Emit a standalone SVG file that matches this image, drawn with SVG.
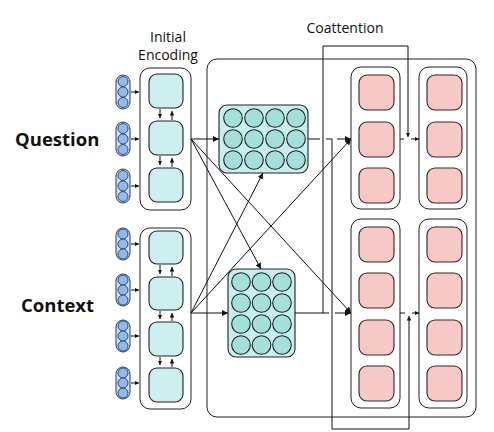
<svg xmlns="http://www.w3.org/2000/svg" width="494" height="432" viewBox="0 0 494 432">
<defs>
<marker id="ah" viewBox="0 0 6 6" refX="6" refY="3" markerWidth="6" markerHeight="6" markerUnits="userSpaceOnUse" orient="auto">
<path d="M0,0 L6,3 L0,6 z" fill="#111"/>
</marker>
<marker id="as" viewBox="0 0 6 6" refX="6" refY="3" markerWidth="4.5" markerHeight="4.5" markerUnits="userSpaceOnUse" orient="auto">
<path d="M0,0 L6,3 L0,6 z" fill="#111"/>
</marker>
<style>
.lbl{font-family:"Open Sans","Liberation Sans",sans-serif;fill:#111}
.big{font-size:18.5px;font-weight:700}
.sm{font-size:14px}
.frame{fill:#fff;stroke:#222;stroke-width:1}
.cell{fill:#cdeff0;stroke:#222;stroke-width:1.1}
.pink{fill:#f6c8c6;stroke:#3a2222;stroke-width:1.1}
.mat{fill:#c8eeee;stroke:#222;stroke-width:1.1}
.dot{fill:#a3e0dc;stroke:#222;stroke-width:1.1}
.pill{fill:#cfe1f6;stroke:#2a3a55;stroke-width:1}
.pc{fill:#94b9ea;stroke:#2a4a80;stroke-width:1}
.ln{fill:none;stroke:#111;stroke-width:1}
</style>
</defs>
<rect width="494" height="432" fill="#fff"/>

<text class="lbl big" x="15" y="146">Question</text>
<text class="lbl big" x="21" y="312">Context</text>
<text class="lbl sm" x="168" y="42" text-anchor="middle">Initial</text>
<text class="lbl sm" x="168" y="60" text-anchor="middle">Encoding</text>
<text class="lbl sm" x="345" y="33" text-anchor="middle">Coattention</text>

<g id="big-box"><rect class="frame" x="207" y="59" width="269" height="358" rx="10"/></g>

<g id="q-inputs">
<rect class="pill" x="116" y="75" width="14" height="34" rx="7"/>
<circle class="pc" cx="123" cy="81.5" r="5"/><circle class="pc" cx="123" cy="92" r="5"/><circle class="pc" cx="123" cy="102.5" r="5"/>
<rect class="pill" x="116" y="122" width="14" height="34" rx="7"/>
<circle class="pc" cx="123" cy="128.5" r="5"/><circle class="pc" cx="123" cy="139" r="5"/><circle class="pc" cx="123" cy="149.5" r="5"/>
<rect class="pill" x="116" y="169" width="14" height="34" rx="7"/>
<circle class="pc" cx="123" cy="175.5" r="5"/><circle class="pc" cx="123" cy="186" r="5"/><circle class="pc" cx="123" cy="196.5" r="5"/>
</g>
<g id="c-inputs">
<rect class="pill" x="116" y="228" width="14" height="32" rx="7"/>
<circle class="pc" cx="123" cy="234" r="5"/><circle class="pc" cx="123" cy="244" r="5"/><circle class="pc" cx="123" cy="254" r="5"/>
<rect class="pill" x="116" y="274" width="14" height="32" rx="7"/>
<circle class="pc" cx="123" cy="280" r="5"/><circle class="pc" cx="123" cy="290" r="5"/><circle class="pc" cx="123" cy="300" r="5"/>
<rect class="pill" x="116" y="320" width="14" height="32" rx="7"/>
<circle class="pc" cx="123" cy="326" r="5"/><circle class="pc" cx="123" cy="336" r="5"/><circle class="pc" cx="123" cy="346" r="5"/>
<rect class="pill" x="116" y="367" width="14" height="32" rx="7"/>
<circle class="pc" cx="123" cy="373" r="5"/><circle class="pc" cx="123" cy="383" r="5"/><circle class="pc" cx="123" cy="393" r="5"/>
</g>

<g id="q-encoder">
<rect class="frame" x="140" y="68" width="51" height="142" rx="10"/>
<rect class="cell" x="149" y="74" width="34" height="34" rx="8"/>
<rect class="cell" x="149" y="121" width="34" height="34" rx="8"/>
<rect class="cell" x="149" y="168" width="34" height="34" rx="8"/>
</g>
<g id="c-encoder">
<rect class="frame" x="140" y="228" width="51" height="181" rx="10"/>
<rect class="cell" x="149" y="231" width="34" height="33" rx="8"/>
<rect class="cell" x="149" y="277" width="34" height="33" rx="8"/>
<rect class="cell" x="149" y="322" width="34" height="34" rx="8"/>
<rect class="cell" x="149" y="368" width="34" height="34" rx="8"/>
</g>

<g id="q-matrix">
<rect class="mat" x="219" y="105" width="89" height="68" rx="8"/>
<circle class="dot" cx="233" cy="118" r="9.3"/><circle class="dot" cx="254" cy="118" r="9.3"/><circle class="dot" cx="275" cy="118" r="9.3"/><circle class="dot" cx="296" cy="118" r="9.3"/>
<circle class="dot" cx="233" cy="139" r="9.3"/><circle class="dot" cx="254" cy="139" r="9.3"/><circle class="dot" cx="275" cy="139" r="9.3"/><circle class="dot" cx="296" cy="139" r="9.3"/>
<circle class="dot" cx="233" cy="160" r="9.3"/><circle class="dot" cx="254" cy="160" r="9.3"/><circle class="dot" cx="275" cy="160" r="9.3"/><circle class="dot" cx="296" cy="160" r="9.3"/>
</g>
<g id="c-matrix">
<rect class="mat" x="228" y="269" width="67" height="88" rx="8"/>
<circle class="dot" cx="241" cy="282" r="9.3"/><circle class="dot" cx="261.5" cy="282" r="9.3"/><circle class="dot" cx="282" cy="282" r="9.3"/>
<circle class="dot" cx="241" cy="303" r="9.3"/><circle class="dot" cx="261.5" cy="303" r="9.3"/><circle class="dot" cx="282" cy="303" r="9.3"/>
<circle class="dot" cx="241" cy="324" r="9.3"/><circle class="dot" cx="261.5" cy="324" r="9.3"/><circle class="dot" cx="282" cy="324" r="9.3"/>
<circle class="dot" cx="241" cy="345" r="9.3"/><circle class="dot" cx="261.5" cy="345" r="9.3"/><circle class="dot" cx="282" cy="345" r="9.3"/>
</g>

<g id="q-coatt-1">
<rect class="frame" x="351" y="67" width="49" height="142" rx="10"/>
<rect class="pink" x="359" y="75" width="35" height="35" rx="8"/>
<rect class="pink" x="359" y="122" width="35" height="35" rx="8"/>
<rect class="pink" x="359" y="168" width="35" height="35" rx="8"/>
</g>
<g id="q-coatt-2">
<rect class="frame" x="419" y="67" width="48" height="142" rx="10"/>
<rect class="pink" x="427" y="75" width="35" height="35" rx="8"/>
<rect class="pink" x="427" y="122" width="35" height="35" rx="8"/>
<rect class="pink" x="427" y="168" width="35" height="35" rx="8"/>
</g>
<g id="c-coatt-1">
<rect class="frame" x="351" y="219" width="49" height="189" rx="10"/>
<rect class="pink" x="359" y="227" width="35" height="35" rx="8"/>
<rect class="pink" x="359" y="273" width="35" height="35" rx="8"/>
<rect class="pink" x="359" y="320" width="35" height="35" rx="8"/>
<rect class="pink" x="359" y="366" width="35" height="35" rx="8"/>
</g>
<g id="c-coatt-2">
<rect class="frame" x="419" y="219" width="48" height="189" rx="10"/>
<rect class="pink" x="427" y="227" width="35" height="35" rx="8"/>
<rect class="pink" x="427" y="273" width="35" height="35" rx="8"/>
<rect class="pink" x="427" y="320" width="35" height="35" rx="8"/>
<rect class="pink" x="427" y="366" width="35" height="35" rx="8"/>
</g>

<g id="connectors">
<!-- inputs to encoder -->
<line class="ln" x1="131" y1="92" x2="139" y2="92" marker-end="url(#as)"/>
<line class="ln" x1="131" y1="139" x2="139" y2="139" marker-end="url(#as)"/>
<line class="ln" x1="131" y1="186" x2="139" y2="186" marker-end="url(#as)"/>
<line class="ln" x1="131" y1="244" x2="139" y2="244" marker-end="url(#as)"/>
<line class="ln" x1="131" y1="290" x2="139" y2="290" marker-end="url(#as)"/>
<line class="ln" x1="131" y1="336" x2="139" y2="336" marker-end="url(#as)"/>
<line class="ln" x1="131" y1="383" x2="139" y2="383" marker-end="url(#as)"/>
<!-- cell recurrences Q -->
<line class="ln" x1="160" y1="109" x2="160" y2="118" marker-end="url(#as)"/>
<line class="ln" x1="172" y1="120" x2="172" y2="111" marker-end="url(#as)"/>
<line class="ln" x1="160" y1="156" x2="160" y2="165" marker-end="url(#as)"/>
<line class="ln" x1="172" y1="167" x2="172" y2="158" marker-end="url(#as)"/>
<!-- cell recurrences C -->
<line class="ln" x1="160" y1="265" x2="160" y2="274" marker-end="url(#as)"/>
<line class="ln" x1="172" y1="276" x2="172" y2="267" marker-end="url(#as)"/>
<line class="ln" x1="160" y1="311" x2="160" y2="319" marker-end="url(#as)"/>
<line class="ln" x1="172" y1="321" x2="172" y2="313" marker-end="url(#as)"/>
<line class="ln" x1="160" y1="357" x2="160" y2="365" marker-end="url(#as)"/>
<line class="ln" x1="172" y1="367" x2="172" y2="359" marker-end="url(#as)"/>
<!-- encoder to matrices -->
<line class="ln" x1="191" y1="139" x2="219" y2="139" marker-end="url(#ah)"/>
<line class="ln" x1="191" y1="313" x2="228" y2="313" marker-end="url(#ah)"/>
<line class="ln" x1="191" y1="139" x2="261" y2="269" marker-end="url(#ah)"/>
<line class="ln" x1="191" y1="139" x2="351" y2="313" marker-end="url(#ah)"/>
<line class="ln" x1="191" y1="313" x2="263" y2="173" marker-end="url(#ah)"/>
<line class="ln" x1="191" y1="313" x2="351" y2="139" marker-end="url(#ah)"/>
<!-- matrix outputs to coattention -->
<polyline class="ln" points="308,139 320,139"/>
<polyline class="ln" points="326,139 332,139"/>
<line class="ln" x1="337" y1="139" x2="351" y2="139" marker-end="url(#ah)"/>
<polyline class="ln" points="295,313 323,313"/>
<polyline class="ln" points="323,313 329,313"/>
<line class="ln" x1="335" y1="313" x2="351" y2="313" marker-end="url(#ah)"/>
<!-- cross branches -->
<polyline class="ln" points="323,313 323,46 408,46 408,137" marker-end="url(#as)"/>
<polyline class="ln" points="332,139 332,429 409,429 409,316" marker-end="url(#as)"/>
<!-- col1 to col2 -->
<line class="ln" x1="400" y1="139" x2="404" y2="139"/>
<line class="ln" x1="411" y1="139" x2="419" y2="139" marker-end="url(#as)"/>
<line class="ln" x1="400" y1="313" x2="405" y2="313"/>
<line class="ln" x1="412" y1="313" x2="419" y2="313" marker-end="url(#as)"/>
</g>
</svg>
